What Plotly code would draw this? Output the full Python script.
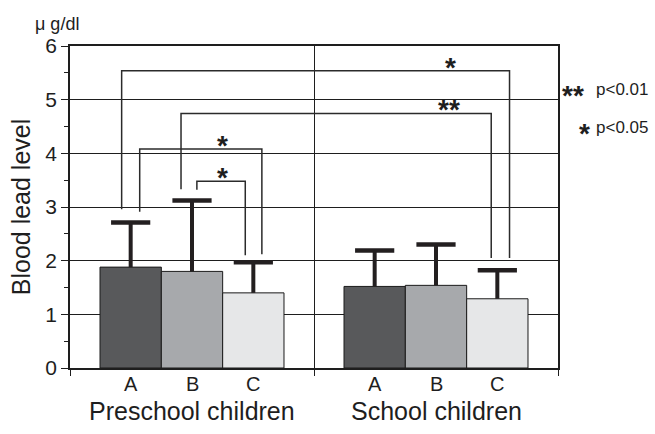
import plotly.graph_objects as go

# Blood lead level (μg/dl): mean and SD for three subgroups in two age groups
groups = ["Preschool children", "School children"]
subgroups = ["A", "B", "C"]
means = {
    "Preschool children": [1.88, 1.80, 1.40],
    "School children": [1.52, 1.54, 1.29],
}
sds = {
    "Preschool children": [0.83, 1.32, 0.57],
    "School children": [0.67, 0.76, 0.53],
}
y_ticks = [0, 1, 2, 3, 4, 5, 6]

# Significance comparisons between bars: leg bottoms, bracket height, mark
comparisons = [
    # left bar, right bar, left leg bottom, right leg bottom, bracket top, mark
    (("Preschool children", "A"), ("School children", "C"), 2.96, 2.05, 5.54, "*"),
    (("Preschool children", "B"), ("School children", "C"), 3.33, 2.05, 4.74, "**"),
    (("Preschool children", "A"), ("Preschool children", "C"), 2.91, 2.12, 4.08, "*"),
    (("Preschool children", "B"), ("Preschool children", "C"), 3.32, 2.10, 3.48, "*"),
]

colors = ["#58595b", "#a7a9ac", "#e6e7e8"]
INK = "#1e1e1e"
FONT = "Liberation Sans, Arial, sans-serif"
GAP = 0.246                      # share of each group left empty
BAR_W = (1 - GAP) / len(subgroups)


def bar_x(group, sub):
    return groups.index(group) + (subgroups.index(sub) - 1) * BAR_W


fig = go.Figure()
for j, sub in enumerate(subgroups):
    xs = [bar_x(g, sub) for g in groups]
    ys = [means[g][j] for g in groups]
    es = [sds[g][j] for g in groups]
    # bar with an upward-only SD stem
    fig.add_trace(go.Bar(
        x=xs, y=ys, width=BAR_W, name=sub,
        marker=dict(color=colors[j], line=dict(color="#1a1a1a", width=1)),
        error_y=dict(type="data", array=es, arrayminus=[0] * len(es),
                     symmetric=False, thickness=4, width=0, color="#231f20"),
    ))
    # cap on top of the SD stem
    fig.add_trace(go.Scatter(
        x=xs, y=[m + s for m, s in zip(ys, es)], mode="markers",
        marker=dict(symbol="line-ew", size=28, line=dict(width=4.5, color="#231f20")),
        hoverinfo="skip",
    ))

# brackets: each leg is nudged so nested brackets do not overlap
leg_shift = [(-0.037, 0.05), (-0.045, -0.025), (0.037, 0.035), (0.02, -0.033)]
mark_pos = [(1.061, 5.72), (1.052, 4.93), (0.125, 4.25), (0.125, 3.67)]
for (lb, rb, lbot, rbot, top, mark), (dl, dr), (mx, my) in zip(comparisons, leg_shift, mark_pos):
    x0 = bar_x(*lb) + dl
    x1 = bar_x(*rb) + dr
    path = f"M {x0} {lbot} L {x0} {top} L {x1} {top} L {x1} {rbot}"
    fig.add_shape(type="path", path=path, xref="x", yref="y",
                  line=dict(color="#2b2b2b", width=1.5))
    fig.add_annotation(x=mx, y=my, xref="x", yref="y", text=f"<b>{mark}</b>",
                       showarrow=False, font=dict(family=FONT, size=28, color=INK),
                       yanchor="middle", yshift=-6)

# subgroup and group labels under the axis
for g in groups:
    for sub in subgroups:
        fig.add_annotation(x=bar_x(g, sub), y=-0.05, xref="x", yref="paper",
                           text=sub, showarrow=False, yanchor="middle",
                           font=dict(family=FONT, size=20, color=INK))
    fig.add_annotation(x=groups.index(g), y=-0.135, xref="x", yref="paper",
                       text=g, showarrow=False, yanchor="middle",
                       font=dict(family=FONT, size=25, color=INK))

# unit label and significance key
fig.add_annotation(x=-0.027, y=1.068, xref="paper", yref="paper", text="μ g/dl",
                   showarrow=False, xanchor="center", yanchor="middle",
                   font=dict(family=FONT, size=18, color=INK))
fig.add_annotation(x=1.189, y=0.866, xref="paper", yref="paper",
                   text="p&lt;0.01", showarrow=False, xanchor="right", yanchor="middle",
                   font=dict(family=FONT, size=17, color=INK))
fig.add_annotation(x=1.058, y=0.866, xref="paper", yref="paper",
                   text="<b>**</b>", showarrow=False, xanchor="right", yanchor="middle",
                   font=dict(family=FONT, size=28, color=INK), yshift=-6)
fig.add_annotation(x=1.189, y=0.748, xref="paper", yref="paper",
                   text="p&lt;0.05", showarrow=False, xanchor="right", yanchor="middle",
                   font=dict(family=FONT, size=17, color=INK))
fig.add_annotation(x=1.07, y=0.748, xref="paper", yref="paper",
                   text="<b>*</b>", showarrow=False, xanchor="right", yanchor="middle",
                   font=dict(family=FONT, size=28, color=INK), yshift=-6)

fig.update_layout(
    width=655, height=434,
    margin=dict(l=70, r=97, t=46, b=66),
    plot_bgcolor="white", paper_bgcolor="white",
    showlegend=False,
    font=dict(family=FONT, color=INK),
)
fig.update_xaxes(
    range=[-0.5, len(groups) - 0.5],
    tickvals=[i - 0.5 for i in range(len(groups) + 1)],
    showticklabels=False, ticks="outside", ticklen=6, tickcolor=INK,
    showgrid=True, gridcolor=INK, gridwidth=1,
    showline=True, linecolor=INK, linewidth=1.5, mirror=True, zeroline=False,
)
fig.update_yaxes(
    range=[0, 6], tickvals=y_ticks,
    ticks="outside", ticklen=7, tickcolor=INK,
    minor=dict(dtick=0.5, ticks="outside", ticklen=4, tickcolor=INK, showgrid=False),
    showgrid=True, gridcolor=INK, gridwidth=1,
    showline=True, linecolor=INK, linewidth=1.5, mirror=True, zeroline=False,
    tickfont=dict(family=FONT, size=21),
    title=dict(text="Blood lead level", font=dict(family=FONT, size=25), standoff=8),
)

fig.write_html("out.html")
